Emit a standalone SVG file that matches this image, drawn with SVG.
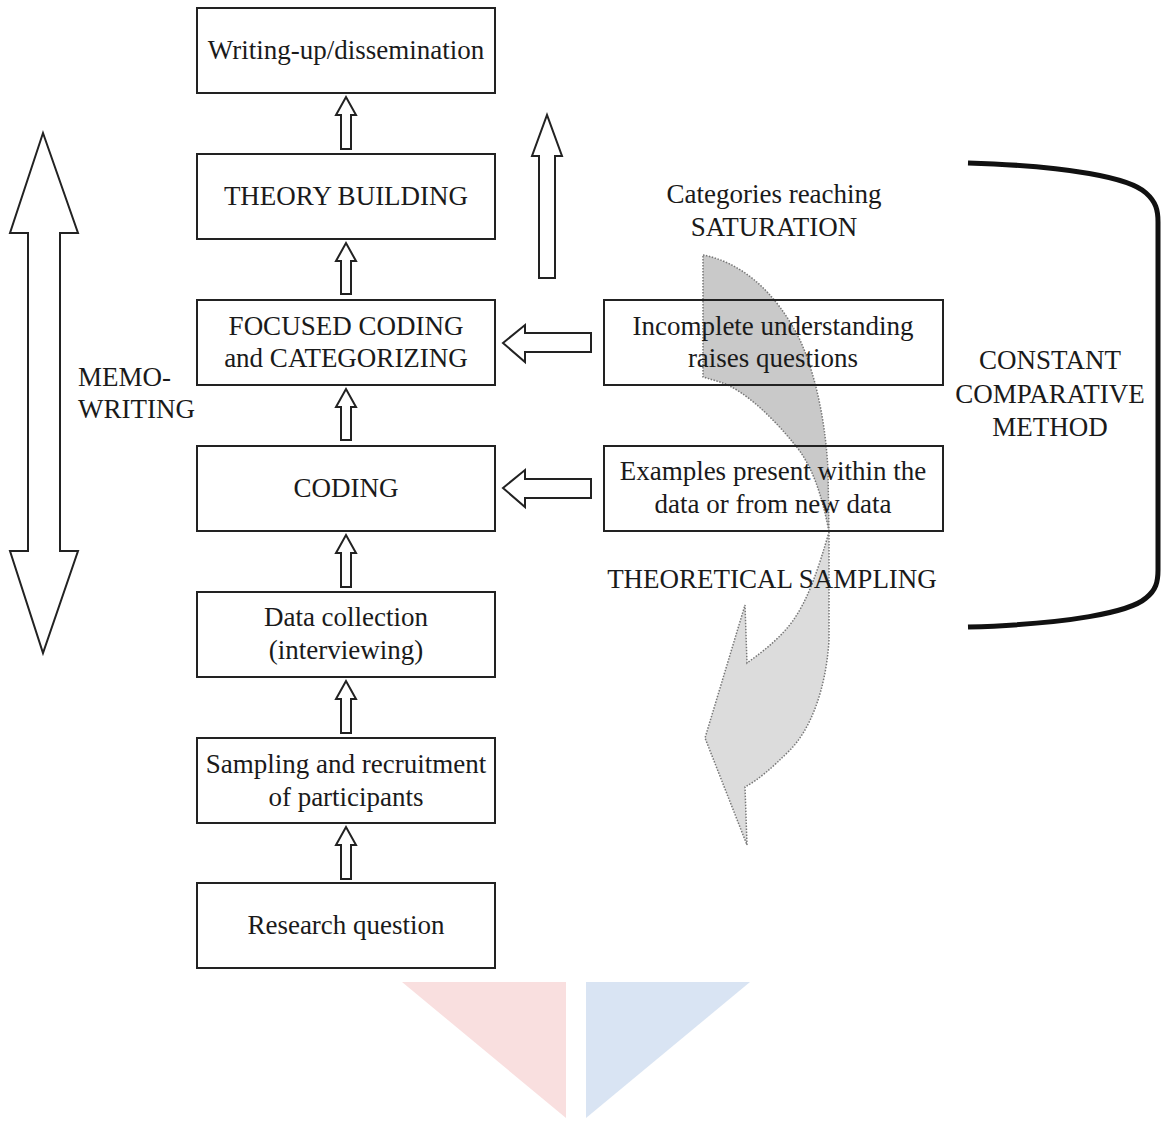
<svg xmlns="http://www.w3.org/2000/svg" width="1161" height="1121" viewBox="0 0 1161 1121" font-family="'Liberation Serif', 'DejaVu Serif', serif">
<style>
  text { font-family: 'Liberation Serif', 'Times New Roman', 'DejaVu Serif', serif; font-size: 27px; fill: #1a1a1a; }
  .c { text-anchor: middle; }
  .box { fill: none; stroke: #222; stroke-width: 2; }
  .arr { fill: #fff; stroke: #222; stroke-width: 2; stroke-linejoin: miter; }
  .ribbon { stroke: #777; stroke-width: 1.5; stroke-dasharray: 1.5 1.5; }
</style>
<rect width="1161" height="1121" fill="#fff"/>

<g id="watermark">
  <polygon points="402,982 566,982 566,1118" fill="#f9dfdf"/>
  <polygon points="586,982 750,982 586,1118" fill="#d9e4f3"/>
</g>

<g id="theoretical-sampling-arrow">
  <path class="ribbon" fill="#c9c9c9" d="M703,255 C740,262 775,290 800,340 C818,380 826,430 828,470 L829,532 C822,495 812,465 795,445 C775,420 745,390 720,382 L703,377 Z"/>
  <path class="ribbon" fill="#dcdcdc" d="M829,532 L829,640 C826,690 810,730 790,750 C772,768 758,780 745,787 L747,845 L705,738 L745,605 L747,663 C765,650 780,638 792,622 C808,600 818,570 829,532 Z"/>
</g>

<g id="connectors">
  <path class="arr" d="M341,149 V115 H336 L346,97 L356,115 H351 V149 Z"/>
  <path class="arr" d="M341,294 V261 H336 L346,243 L356,261 H351 V294 Z"/>
  <path class="arr" d="M341,440 V407 H336 L346,389 L356,407 H351 V440 Z"/>
  <path class="arr" d="M341,587 V553 H336 L346,535 L356,553 H351 V587 Z"/>
  <path class="arr" d="M341,733 V699 H336 L346,681 L356,699 H351 V733 Z"/>
  <path class="arr" d="M341,879 V845 H336 L346,827 L356,845 H351 V879 Z"/>
  <path class="arr" d="M539,278 V156 H532 L547,115 L562,156 H555 V278 Z"/>
  <path class="arr" d="M591,333 H525 V325 L503,343 L525,362 V352 H591 Z"/>
  <path class="arr" d="M591,479 H525 V470 L503,488 L525,507 V498 H591 Z"/>
  <path class="arr" d="M28,551 V233 H10 L43,133 L78,233 H60 V551 H78 L43,653 L10,551 Z"/>
  <path d="M968,163 C1070,166 1130,178 1146,193 C1156,202 1158,210 1158,222 L1158,570 C1158,582 1156,590 1146,598 C1130,612 1070,624 968,627" fill="none" stroke="#111" stroke-width="5"/>
</g>

<g id="n-writing"><rect class="box" x="197" y="8" width="298" height="85"/><text class="c" x="346" y="59">Writing-up/dissemination</text></g>
<g id="n-theory"><rect class="box" x="197" y="154" width="298" height="85"/><text class="c" x="346" y="205">THEORY BUILDING</text></g>
<g id="n-focused"><rect class="box" x="197" y="300" width="298" height="85"/><text class="c" x="346" y="335">FOCUSED CODING</text><text class="c" x="346" y="367">and CATEGORIZING</text></g>
<g id="n-coding"><rect class="box" x="197" y="446" width="298" height="85"/><text class="c" x="346" y="497">CODING</text></g>
<g id="n-data"><rect class="box" x="197" y="592" width="298" height="85"/><text class="c" x="346" y="626">Data collection</text><text class="c" x="346" y="659">(interviewing)</text></g>
<g id="n-sampling"><rect class="box" x="197" y="738" width="298" height="85"/><text class="c" x="346" y="773">Sampling and recruitment</text><text class="c" x="346" y="806">of participants</text></g>
<g id="n-research"><rect class="box" x="197" y="883" width="298" height="85"/><text class="c" x="346" y="934">Research question</text></g>
<g id="n-incomplete"><rect class="box" x="604" y="300" width="339" height="85"/><text class="c" x="773" y="335">Incomplete understanding</text><text class="c" x="773" y="367">raises questions</text></g>
<g id="n-examples"><rect class="box" x="604" y="446" width="339" height="85"/><text class="c" x="773" y="480">Examples present within the</text><text class="c" x="773" y="513">data or from new data</text></g>

<g id="labels">
  <text class="c" x="774" y="203">Categories reaching</text>
  <text class="c" x="774" y="236">SATURATION</text>
  <text class="c" x="772" y="588">THEORETICAL SAMPLING</text>
  <text x="78" y="386">MEMO-</text>
  <text x="78" y="418">WRITING</text>
  <text class="c" x="1050" y="369">CONSTANT</text>
  <text class="c" x="1050" y="403">COMPARATIVE</text>
  <text class="c" x="1050" y="436">METHOD</text>
</g>
</svg>
